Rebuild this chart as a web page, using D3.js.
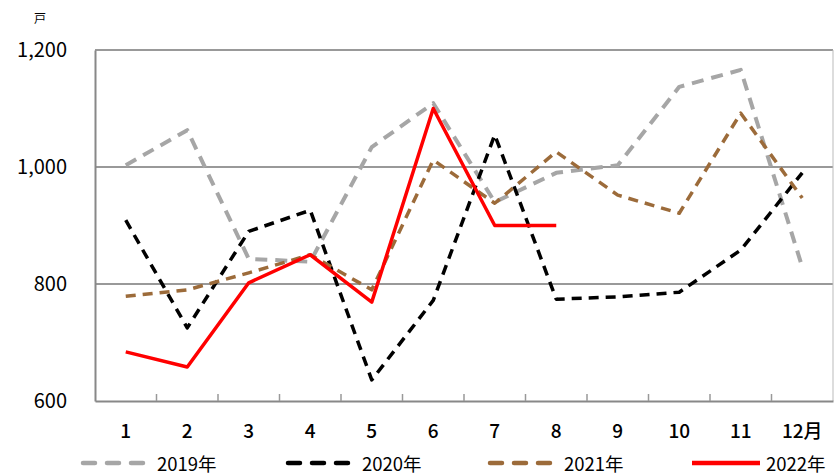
<html>
<head>
  <meta charset="UTF-8">
  <script src="https://d3js.org/d3.v7.min.js"></script>
</head>
<style>
body { margin: 0; background: #fff; }
text { font-family: "Noto Sans CJK JP", "Noto Sans", sans-serif; fill: #000; }
</style>
<body>
<script>

var months = ['1','2','3','4','5','6','7','8','9','10','11','12月'];
var yTicks = [600, 800, 1000, 1200];

var v2019 = [1003, 1063, 843, 838, 1034, 1109, 940, 990, 1003, 1137, 1166, 829];
var v2020 = [909, 725, 890, 926, 636, 772, 1055, 774, 778, 786, 858, 990];
var v2021 = [779, 790, 819, 850, 790, 1012, 938, 1026, 952, 921, 1092, 947];
var v2022 = [684, 658, 802, 850, 769, 1100, 900, 900];

var series = [
  {name: '2019年', values: v2019, color: '#a6a6a6', dash: '12,8', width: 4},
  {name: '2020年', values: v2020, color: '#000000', dash: '10,7', width: 3.5},
  {name: '2021年', values: v2021, color: '#9c6b3a', dash: '10,7', width: 3.5},
  {name: '2022年', values: v2022, color: '#ff0000', dash: null, width: 3.5}
];

var width = 834, height = 473;
var plotL = 95, plotR = 833, plotT = 50, plotB = 401;

var svg = d3.select('body').append('svg')
  .attr('width', width)
  .attr('height', height);

var x = d3.scaleBand().domain(months).range([plotL, plotR]);
var y = d3.scaleLinear().domain([600, 1200]).range([plotB, plotT]);

// grid lines
svg.append('g').selectAll('line')
  .data(yTicks.slice(1))
  .enter().append('line')
  .attr('x1', plotL).attr('x2', plotR)
  .attr('y1', function(d){ return y(d); })
  .attr('y2', function(d){ return y(d); })
  .attr('stroke', '#999')
  .attr('stroke-width', 2);

// right border
svg.append('line')
  .attr('x1', plotR).attr('x2', plotR)
  .attr('y1', plotT).attr('y2', plotB)
  .attr('stroke', '#bbb').attr('stroke-width', 1);

// y axis
var yAxis = svg.append('g')
  .attr('transform', 'translate(' + plotL + ',0)')
  .call(d3.axisLeft(y).tickValues(yTicks).tickSize(0).tickPadding(28).tickFormat(d3.format(',')));
yAxis.select('.domain').attr('stroke', '#888').attr('stroke-width', 2);
yAxis.selectAll('text')
  .style('font-size', '20px')
  .attr('font-family', null);

// x axis with inner ticks at band edges
var xAxis = svg.append('g')
  .attr('transform', 'translate(0,' + plotB + ')')
  .call(d3.axisBottom(x).tickSize(0).tickPadding(24));
xAxis.select('.domain').attr('stroke', '#888').attr('stroke-width', 2);
xAxis.selectAll('text')
  .style('font-size', '19px')
  .style('font-weight', '500')
  .attr('font-family', null);

svg.append('g').selectAll('line')
  .data(months.slice(1))
  .enter().append('line')
  .attr('x1', function(d){ return x(d); })
  .attr('x2', function(d){ return x(d); })
  .attr('y1', plotB).attr('y2', plotB - 7)
  .attr('stroke', '#999').attr('stroke-width', 1.5);

// unit
svg.append('text')
  .attr('x', 40).attr('y', 23)
  .attr('text-anchor', 'middle')
  .style('font-size', '12px')
  .text('戸');

var line = d3.line()
  .x(function(d, i){ return x(months[i]) + x.bandwidth() / 2; })
  .y(function(d){ return y(d); });

svg.append('g').selectAll('path')
  .data(series)
  .enter().append('path')
  .attr('d', function(s){ return line(s.values); })
  .attr('fill', 'none')
  .attr('stroke', function(s){ return s.color; })
  .attr('stroke-width', function(s){ return s.width; })
  .attr('stroke-dasharray', function(s){ return s.dash; })
  .attr('stroke-linejoin', 'round');

// legend
var legendX = [83, 288, 490, 692];
var leg = svg.append('g').selectAll('g')
  .data(series)
  .enter().append('g')
  .attr('transform', function(s, i){ return 'translate(' + legendX[i] + ',463)'; });

leg.append('line')
  .attr('x1', 0).attr('x2', 68)
  .attr('y1', 0).attr('y2', 0)
  .attr('stroke', function(s){ return s.color; })
  .attr('stroke-width', 4.5)
  .attr('stroke-dasharray', function(s){ return s.dash ? '12,12' : null; })
  .attr('stroke-linecap', function(s){ return s.dash ? 'round' : 'butt'; });

leg.append('text')
  .attr('x', 74).attr('y', 0)
  .attr('dominant-baseline', 'central')
  .style('font-size', '18.5px')
  .text(function(s){ return s.name; });

</script>
</body>
</html>
